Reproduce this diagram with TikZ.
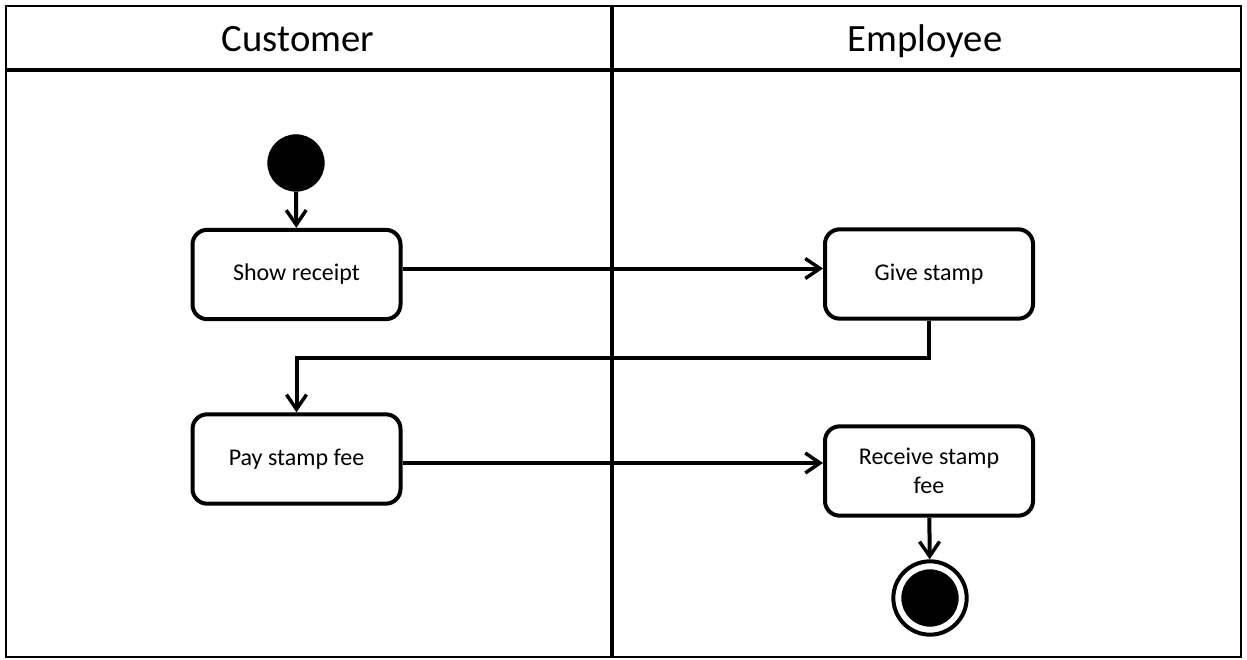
\documentclass[tikz,border=0pt]{standalone}
\usepackage{fontspec}
\setmainfont{Carlito}
\usetikzlibrary{arrows.meta,positioning,calc}

\tikzset{
	act/.style={draw,line width=3pt,rounded corners=11pt,minimum width=156pt,minimum height=67pt,align=center,font=\fontsize{18}{22}\selectfont},
	lane/.style={anchor=base,font=\fontsize{29}{34}\selectfont},
	flow/.style={line width=3pt,-{Straight Barb[length=11pt,width=15pt,line width=2.6pt]}},
}

\begin{document}
\begin{tikzpicture}[x=0.75pt,y=-0.75pt]
	\useasboundingbox (0,0) rectangle (1247,660);
	\draw[line width=2.2pt] (6,6) rectangle (1241,657);
	\draw[line width=3.5pt] (6,70) -- (1241,70);
	\draw[line width=2.5pt] (612,6) -- (612,657);
	
	\node[lane] (cust) at (298,52) {Customer};
	\node[lane] (empl) at (925,52) {Employee};
	
	\node[circle,fill,minimum size=43pt,inner sep=0pt] (start) at (296,163) {};
	\node[act] (show) at (296.5,274.5) {Show receipt};
	\node[act] (give) at (929,274) {Give stamp};
	\node[act] (pay) at (296.5,459) {Pay stamp fee};
	\node[act] (recv) at (929,471) {Receive stamp\\fee};
	\node[circle,draw,line width=3pt,minimum size=55pt,inner sep=0pt] (stop) at (930,598) {};
	\fill (stop) circle (21.5pt);
	
	\coordinate (turn) at (612,358);
	
	\draw[flow] (start) -- (show);
	\draw[flow] ([yshift=4.5pt]show.east) -- ([yshift=4.5pt]show.east -| give.west);
	\draw[flow] (give.south) -- (give.south |- turn) -| (pay.north);
	\draw[flow] ([yshift=-3pt]pay.east) -- ([yshift=-3pt]pay.east -| recv.west);
	\draw[flow] (recv) -- (stop);
	
\end{tikzpicture}
\end{document}
